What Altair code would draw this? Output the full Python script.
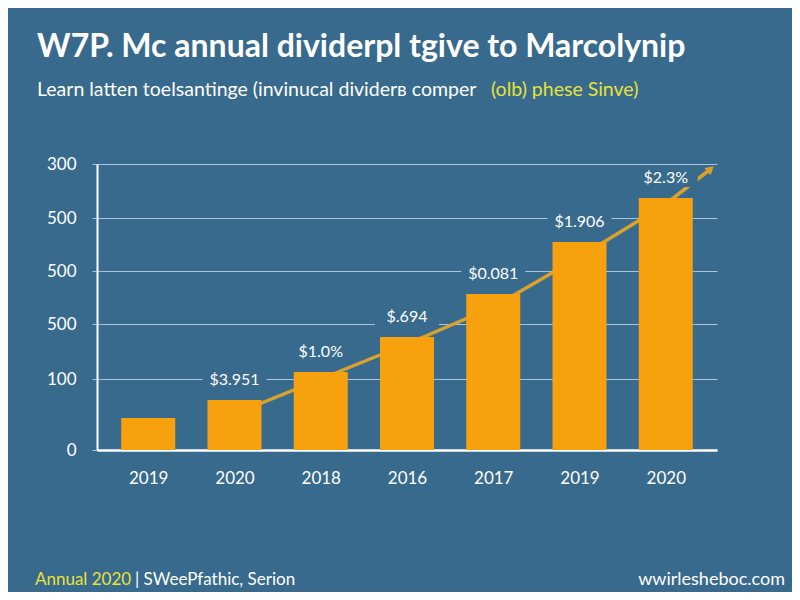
import altair as alt
import pandas as pd

# ---- data ----
years = ["2019", "2020", "2018", "2016", "2017", "2019", "2020"]
bar_values = [32, 50, 78, 113, 156, 208, 252]
value_labels = ["", "$3.951", "$1.0%", "$.694", "$0.081", "$1.906", "$2.3%"]

trend_x = [1, 2, 3, 4, 5, 6, 6.52]
trend_y = [36, 71, 106, 143, 193, 246, 281]

y_tick_values = [0, 71, 126, 179, 232, 286]
y_tick_labels = ["0", "100", "500", "500", "500", "300"]

title_text = "W7P. Mc annual dividerpl tgive to Marcolynip"
subtitle_white = "Learn latten toelsantinge (invinucal dividerв comper"
subtitle_yellow = "(olb) phese Sinve)"
footer_yellow = "Annual 2020"
footer_white = "|  SWeePfathic, Serion"
footer_right = "wwirlesheboc.com"

BG = "#386a8d"
BAR = "#f8a10f"
LINE = "#d9a22c"
GRID = "#a9c5db"
YELLOW = "#e8e23a"
FONT = "Lato"

bars = pd.DataFrame({"idx": list(range(len(years))), "year": years,
                     "value": bar_values, "label": value_labels})
labeled = bars[bars["label"] != ""].copy()
labeled["bg_lo"] = labeled["value"] + 11
labeled["bg_hi"] = labeled["value"] + 29
trend = pd.DataFrame({"x": trend_x, "y": trend_y})
arrow = trend.tail(1)


def expr_map(keys, labels, field="datum.value"):
    e = "''"
    for k, l in zip(reversed(keys), reversed(labels)):
        e = f"({field} == {k} ? '{l}' : {e})"
    return e


x_scale = alt.Scale(domain=[-0.536, 6.536], nice=False, zero=False)
y_scale = alt.Scale(domain=[0, 286], nice=False)

x_enc = alt.X("idx:Q", scale=x_scale, title=None,
              axis=alt.Axis(values=list(range(len(years))),
                            labelExpr=expr_map(list(range(len(years))), years),
                            grid=False, ticks=False, domainColor="white",
                            domainWidth=2.5, labelColor="white", labelFontSize=17,
                            labelFont=FONT, labelPadding=20))
y_enc = alt.Y("value:Q", scale=y_scale, title=None,
              axis=alt.Axis(values=y_tick_values,
                            labelExpr=expr_map(y_tick_values, y_tick_labels),
                            grid=True, gridColor=GRID, gridWidth=1.2,
                            tickColor=GRID, tickSize=5, domainColor="white",
                            domainWidth=2, labelColor="white", labelFontSize=17,
                            labelFont=FONT, labelPadding=16))

trend_line = alt.Chart(trend).mark_line(color=LINE, strokeWidth=3.5).encode(
    x=alt.X("x:Q", scale=x_scale), y=alt.Y("y:Q", scale=y_scale))

label_bg = alt.Chart(labeled).mark_bar(color=BG, width=64).encode(
    x=alt.X("idx:Q", scale=x_scale), y=alt.Y("bg_lo:Q", scale=y_scale), y2="bg_hi:Q")

bar_layer = alt.Chart(bars).mark_bar(color=BAR, width=54).encode(x=x_enc, y=y_enc)

text_layer = alt.Chart(labeled).mark_text(
    color="white", fontSize=16, font=FONT, dy=-20, baseline="middle").encode(
    x=alt.X("idx:Q", scale=x_scale), y=alt.Y("value:Q", scale=y_scale), text="label:N")

arrow_head = alt.Chart(arrow).mark_point(
    shape="triangle-up", filled=True, color=LINE, size=90, angle=49, opacity=1).encode(
    x=alt.X("x:Q", scale=x_scale), y=alt.Y("y:Q", scale=y_scale))

one = pd.DataFrame({"a": [0]})


def ann(text, x, y, size, color, weight="normal", align="left"):
    return alt.Chart(one).mark_text(
        text=text, fontSize=size, font=FONT, color=color, fontWeight=weight,
        align=align, baseline="middle").encode(x=alt.value(x), y=alt.value(y))


annotations = [
    ann(title_text, -60, -117, 32, "white", "bold"),
    ann(subtitle_white, -60, -74, 19.5, "white"),
    ann(subtitle_yellow, 394, -74, 19.5, YELLOW),
    ann(footer_yellow, -62, 416, 17, YELLOW),
    ann(footer_white, 38, 416, 17, "white"),
    ann(footer_right, 688, 416, 18, "white", align="right"),
]

chart = alt.layer(trend_line, label_bg, bar_layer, text_layer, arrow_head,
                  *annotations).properties(
    width=620, height=286,
    autosize=alt.AutoSizeParams(type="none"),
    padding={"left": 89, "top": 156, "right": 75, "bottom": 142},
    background=BG,
).configure_view(stroke=None)

chart.save("out.html", embed_options={"renderer": "svg", "actions": False})
